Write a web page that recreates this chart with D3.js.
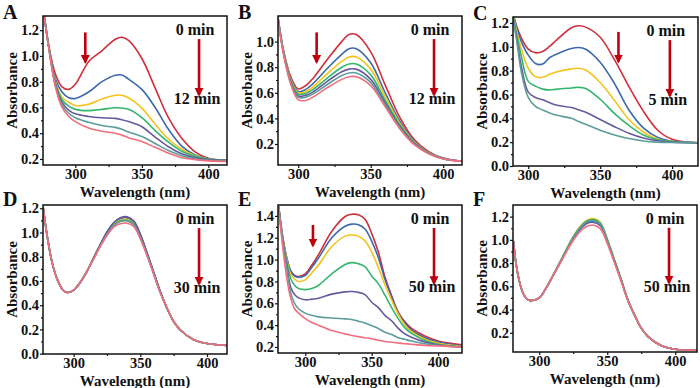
<!DOCTYPE html>
<html>
<head>
<meta charset="utf-8">
<script src="https://cdn.jsdelivr.net/npm/d3@7"></script>
<style>
  body { margin: 0; background: #fff; }
  text { font-family: "Liberation Serif", "Times New Roman", serif; font-weight: bold; }
</style>
</head>
<body>
<div id="chart"></div>
<script>
// series order in every panel: red, blue, yellow, green, purple, teal, pink
const seriesColors = ["#cf2f3a", "#3c68b0", "#f5c21b", "#34b56e", "#675a9c", "#5c9c9b", "#f26d7d"];

// ---- panel A ----
const wlA = [276, 280, 285, 290, 295, 300, 310, 320, 330, 335, 340, 350, 360, 370, 380, 390, 400, 414];
const absA = [
  [1.36, 1.08, 0.86, 0.76, 0.74, 0.78, 0.955, 1.04, 1.13, 1.145, 1.12, 0.98, 0.75, 0.52, 0.36, 0.255, 0.205, 0.19],
  [1.36, 1.08, 0.82, 0.72, 0.675, 0.67, 0.72, 0.80, 0.85, 0.852, 0.82, 0.74, 0.60, 0.43, 0.30, 0.23, 0.20, 0.19],
  [1.36, 1.08, 0.80, 0.68, 0.64, 0.615, 0.625, 0.665, 0.695, 0.695, 0.675, 0.595, 0.47, 0.355, 0.275, 0.225, 0.20, 0.19],
  [1.36, 1.07, 0.79, 0.66, 0.61, 0.585, 0.575, 0.585, 0.598, 0.595, 0.585, 0.52, 0.42, 0.33, 0.26, 0.22, 0.20, 0.19],
  [1.36, 1.07, 0.78, 0.64, 0.58, 0.55, 0.53, 0.52, 0.515, 0.505, 0.49, 0.45, 0.37, 0.295, 0.24, 0.21, 0.195, 0.19],
  [1.36, 1.07, 0.77, 0.62, 0.555, 0.52, 0.485, 0.46, 0.445, 0.43, 0.41, 0.375, 0.32, 0.265, 0.225, 0.20, 0.19, 0.185],
  [1.36, 1.06, 0.76, 0.60, 0.53, 0.49, 0.44, 0.415, 0.40, 0.385, 0.365, 0.335, 0.29, 0.245, 0.21, 0.195, 0.185, 0.18]
];

// ---- panel B ----
const wlB = [286, 290, 295, 300, 305, 310, 320, 330, 335, 340, 350, 360, 370, 380, 390, 400, 413];
const absB = [
  [1.19, 0.92, 0.72, 0.63, 0.655, 0.71, 0.86, 1.00, 1.055, 1.055, 0.92, 0.66, 0.41, 0.235, 0.14, 0.09, 0.065],
  [1.19, 0.915, 0.705, 0.61, 0.625, 0.67, 0.79, 0.90, 0.945, 0.945, 0.835, 0.60, 0.38, 0.22, 0.135, 0.088, 0.065],
  [1.185, 0.91, 0.70, 0.60, 0.61, 0.645, 0.75, 0.845, 0.88, 0.88, 0.785, 0.57, 0.365, 0.215, 0.132, 0.087, 0.065],
  [1.185, 0.905, 0.69, 0.59, 0.595, 0.625, 0.715, 0.80, 0.825, 0.825, 0.74, 0.54, 0.35, 0.21, 0.13, 0.086, 0.065],
  [1.18, 0.90, 0.68, 0.575, 0.58, 0.605, 0.69, 0.765, 0.785, 0.785, 0.705, 0.52, 0.34, 0.205, 0.128, 0.085, 0.065],
  [1.18, 0.895, 0.67, 0.565, 0.565, 0.59, 0.665, 0.735, 0.755, 0.755, 0.68, 0.505, 0.33, 0.20, 0.126, 0.085, 0.065],
  [1.175, 0.89, 0.66, 0.545, 0.54, 0.565, 0.64, 0.705, 0.725, 0.725, 0.655, 0.49, 0.32, 0.195, 0.124, 0.084, 0.065]
];

// ---- panel C (six spectra, 0-5 min) ----
const wlC = [289, 292, 295, 300, 305, 310, 315, 320, 330, 335, 340, 350, 360, 370, 380, 390, 400, 418];
const absC = [
  [1.30, 1.17, 1.08, 0.98, 0.95, 0.96, 1.005, 1.06, 1.16, 1.177, 1.165, 1.08, 0.89, 0.666, 0.46, 0.30, 0.225, 0.195],
  [1.30, 1.16, 1.05, 0.93, 0.86, 0.855, 0.91, 0.94, 0.985, 0.994, 0.98, 0.87, 0.69, 0.47, 0.32, 0.24, 0.208, 0.195],
  [1.29, 1.13, 0.99, 0.82, 0.75, 0.745, 0.77, 0.79, 0.815, 0.82, 0.805, 0.70, 0.55, 0.39, 0.285, 0.225, 0.205, 0.195],
  [1.28, 1.10, 0.93, 0.71, 0.67, 0.645, 0.638, 0.645, 0.655, 0.66, 0.65, 0.56, 0.44, 0.34, 0.26, 0.22, 0.205, 0.195],
  [1.27, 1.07, 0.85, 0.62, 0.575, 0.555, 0.53, 0.51, 0.49, 0.472, 0.45, 0.39, 0.33, 0.275, 0.235, 0.212, 0.20, 0.195],
  [1.26, 1.05, 0.80, 0.575, 0.50, 0.47, 0.445, 0.425, 0.40, 0.373, 0.35, 0.30, 0.26, 0.23, 0.21, 0.20, 0.197, 0.195]
];

// ---- panel D ----
const wlD = [277, 280, 284, 288, 292, 295, 300, 305, 310, 315, 320, 325, 330, 335, 340, 345, 350, 355, 360, 365, 370, 375, 380, 390, 400, 415];
const absD = [
  [1.22, 0.98, 0.745, 0.605, 0.525, 0.505, 0.525, 0.59, 0.68, 0.79, 0.90, 1.00, 1.075, 1.115, 1.122, 1.09, 0.98, 0.83, 0.67, 0.51, 0.375, 0.265, 0.195, 0.115, 0.083, 0.068],
  [1.22, 0.98, 0.745, 0.605, 0.525, 0.505, 0.525, 0.59, 0.68, 0.79, 0.90, 1.002, 1.077, 1.117, 1.125, 1.092, 0.982, 0.831, 0.671, 0.511, 0.375, 0.265, 0.195, 0.115, 0.083, 0.068],
  [1.22, 0.98, 0.745, 0.605, 0.525, 0.505, 0.525, 0.59, 0.68, 0.787, 0.895, 0.99, 1.065, 1.103, 1.108, 1.078, 0.97, 0.822, 0.665, 0.507, 0.375, 0.265, 0.195, 0.115, 0.083, 0.068],
  [1.22, 0.98, 0.745, 0.605, 0.525, 0.505, 0.525, 0.59, 0.68, 0.786, 0.893, 0.988, 1.06, 1.096, 1.10, 1.072, 0.965, 0.82, 0.662, 0.505, 0.375, 0.265, 0.195, 0.115, 0.083, 0.068],
  [1.22, 0.98, 0.745, 0.605, 0.525, 0.505, 0.525, 0.59, 0.68, 0.792, 0.902, 1.004, 1.08, 1.121, 1.13, 1.096, 0.985, 0.833, 0.672, 0.512, 0.375, 0.265, 0.195, 0.115, 0.083, 0.068],
  [1.22, 0.98, 0.745, 0.605, 0.525, 0.505, 0.525, 0.59, 0.68, 0.785, 0.89, 0.985, 1.055, 1.09, 1.095, 1.065, 0.96, 0.815, 0.66, 0.503, 0.375, 0.265, 0.195, 0.115, 0.083, 0.068],
  [1.22, 0.98, 0.745, 0.605, 0.525, 0.505, 0.525, 0.59, 0.68, 0.782, 0.885, 0.975, 1.045, 1.072, 1.077, 1.05, 0.948, 0.808, 0.655, 0.50, 0.375, 0.265, 0.195, 0.115, 0.083, 0.068]
];

// ---- panel E ----
const wlE = [280, 283, 286, 289, 292, 295, 300, 305, 310, 320, 330, 335, 340, 345, 350, 355, 360, 365, 370, 375, 380, 390, 400, 418];
const absE = [
  [1.49, 1.21, 1.02, 0.90, 0.855, 0.845, 0.87, 0.95, 1.045, 1.26, 1.395, 1.415, 1.41, 1.37, 1.24, 1.07, 0.84, 0.67, 0.52, 0.43, 0.37, 0.30, 0.255, 0.22],
  [1.49, 1.21, 1.02, 0.895, 0.85, 0.84, 0.855, 0.93, 1.015, 1.20, 1.305, 1.325, 1.32, 1.28, 1.17, 1.02, 0.82, 0.66, 0.51, 0.42, 0.355, 0.285, 0.245, 0.21],
  [1.49, 1.20, 1.01, 0.87, 0.82, 0.80, 0.815, 0.88, 0.95, 1.12, 1.215, 1.226, 1.215, 1.17, 1.07, 0.93, 0.77, 0.63, 0.50, 0.40, 0.34, 0.27, 0.235, 0.205],
  [1.49, 1.19, 0.99, 0.83, 0.765, 0.735, 0.725, 0.735, 0.765, 0.87, 0.955, 0.972, 0.962, 0.935, 0.85, 0.78, 0.675, 0.56, 0.46, 0.375, 0.325, 0.26, 0.225, 0.20],
  [1.48, 1.18, 0.96, 0.75, 0.68, 0.65, 0.632, 0.638, 0.647, 0.684, 0.705, 0.708, 0.70, 0.68, 0.61, 0.56, 0.49, 0.44, 0.37, 0.32, 0.29, 0.245, 0.22, 0.197],
  [1.48, 1.17, 0.93, 0.70, 0.60, 0.55, 0.51, 0.49, 0.476, 0.465, 0.457, 0.452, 0.436, 0.42, 0.395, 0.37, 0.335, 0.315, 0.285, 0.27, 0.255, 0.23, 0.215, 0.20],
  [1.47, 1.12, 0.84, 0.65, 0.55, 0.51, 0.46, 0.425, 0.40, 0.35, 0.32, 0.305, 0.295, 0.285, 0.275, 0.262, 0.25, 0.243, 0.236, 0.23, 0.225, 0.215, 0.21, 0.20]
];

// ---- panel F ----
const wlF = [281, 283, 286, 289, 292, 295, 300, 305, 310, 315, 320, 325, 330, 335, 340, 345, 350, 355, 360, 365, 370, 375, 380, 390, 400, 416];
const absF = [
  [0.99, 0.79, 0.615, 0.52, 0.482, 0.478, 0.50, 0.585, 0.69, 0.80, 0.915, 1.022, 1.105, 1.158, 1.17, 1.138, 1.0, 0.833, 0.665, 0.487, 0.355, 0.24, 0.168, 0.088, 0.058, 0.05],
  [0.99, 0.79, 0.615, 0.52, 0.482, 0.478, 0.50, 0.585, 0.69, 0.80, 0.912, 1.017, 1.098, 1.15, 1.16, 1.13, 0.995, 0.83, 0.663, 0.486, 0.355, 0.24, 0.168, 0.088, 0.058, 0.05],
  [0.99, 0.79, 0.615, 0.52, 0.482, 0.478, 0.50, 0.585, 0.69, 0.805, 0.92, 1.03, 1.115, 1.17, 1.183, 1.15, 1.01, 0.84, 0.67, 0.49, 0.355, 0.24, 0.168, 0.088, 0.058, 0.05],
  [0.99, 0.79, 0.615, 0.52, 0.482, 0.478, 0.50, 0.585, 0.69, 0.803, 0.917, 1.025, 1.108, 1.162, 1.175, 1.143, 1.005, 0.836, 0.668, 0.488, 0.355, 0.24, 0.168, 0.088, 0.058, 0.05],
  [0.99, 0.79, 0.615, 0.52, 0.482, 0.478, 0.50, 0.585, 0.69, 0.797, 0.908, 1.012, 1.09, 1.14, 1.15, 1.12, 0.99, 0.826, 0.66, 0.485, 0.355, 0.24, 0.168, 0.088, 0.058, 0.05],
  [0.99, 0.79, 0.615, 0.52, 0.482, 0.478, 0.50, 0.585, 0.69, 0.80, 0.913, 1.02, 1.102, 1.155, 1.165, 1.135, 0.998, 0.832, 0.664, 0.486, 0.355, 0.24, 0.168, 0.088, 0.058, 0.05],
  [0.99, 0.79, 0.615, 0.52, 0.482, 0.478, 0.50, 0.585, 0.69, 0.79, 0.897, 0.995, 1.07, 1.117, 1.125, 1.095, 0.97, 0.812, 0.65, 0.48, 0.355, 0.24, 0.168, 0.088, 0.058, 0.05]
];

const xTicks = [300, 350, 400];
const xMinorTicks = [325, 375];
const startLabel = "0 min";
const endLabels = ["12 min", "12 min", "5 min", "30 min", "50 min", "50 min"];
const panelLetters = ["A", "B", "C", "D", "E", "F"];

// layout: frame box in page pixels, axis ranges, annotation spots (fractions of frame)
const panels = [
  {x: 43, y: 16, w: 184, h: 149, xDom: [275.7, 414], yDom: [0.153, 1.31], yTicks: [0.2, 0.4, 0.6, 0.8, 1.0, 1.2], wl: wlA, abs: absA, small: [0.23, 0.11, 0.31]},
  {x: 278, y: 16, w: 184, h: 149, xDom: [286, 413], yDom: [0.036, 1.2], yTicks: [0.2, 0.4, 0.6, 0.8, 1.0], wl: wlB, abs: absB, small: [0.21, 0.11, 0.31]},
  {x: 513, y: 17, w: 185, h: 149, xDom: [289.4, 418], yDom: [0, 1.25], yTicks: [0.0, 0.2, 0.4, 0.6, 0.8, 1.0, 1.2], wl: wlC, abs: absC, small: [0.57, 0.10, 0.30]},
  {x: 43, y: 205, w: 184, h: 149, xDom: [277, 415], yDom: [-0.003, 1.227], yTicks: [0.0, 0.2, 0.4, 0.6, 0.8, 1.0, 1.2], wl: wlD, abs: absD, small: null},
  {x: 278, y: 205, w: 184, h: 148, xDom: [279.5, 418], yDom: [0.145, 1.5], yTicks: [0.2, 0.4, 0.6, 0.8, 1.0, 1.2, 1.4], wl: wlE, abs: absE, small: [0.19, 0.135, 0.275]},
  {x: 513, y: 205, w: 184, h: 147, xDom: [280.7, 416], yDom: [0.035, 1.3], yTicks: [0.2, 0.4, 0.6, 0.8, 1.0, 1.2], wl: wlF, abs: absF, small: null}
];

const arrowColor = "#c0000c";

const svg = d3.select("#chart")
  .append("svg")
  .attr("width", 700)
  .attr("height", 388);

svg.append("defs").append("marker")
  .attr("id", "head")
  .attr("viewBox", "0 0 10 10")
  .attr("refX", 8)
  .attr("refY", 5)
  .attr("markerUnits", "userSpaceOnUse")
  .attr("markerWidth", 9)
  .attr("markerHeight", 11)
  .attr("orient", "auto")
  .append("path")
  .attr("d", "M0,0 L10,5 L0,10 Z")
  .attr("fill", arrowColor);

function arrow(g, x0, y0, x1, y1) {
  g.append("line")
    .attr("x1", x0).attr("y1", y0)
    .attr("x2", x1).attr("y2", y1)
    .attr("stroke", arrowColor)
    .attr("stroke-width", 2.6)
    .attr("marker-end", "url(#head)");
}

panels.forEach(function (p, i) {
  const g = svg.append("g").attr("transform", `translate(${p.x},${p.y})`);

  const x = d3.scaleLinear().domain(p.xDom).range([0, p.w]);
  const y = d3.scaleLinear().domain(p.yDom).range([p.h, 0]);

  g.append("clipPath").attr("id", "clip" + i)
    .append("rect").attr("width", p.w).attr("height", p.h);

  const line = d3.line()
    .x((d, k) => x(p.wl[k]))
    .y(d => y(d))
    .curve(d3.curveCatmullRom.alpha(0.5));

  g.append("g")
    .attr("clip-path", `url(#clip${i})`)
    .selectAll("path")
    .data(p.abs)
    .join("path")
    .attr("d", line)
    .attr("fill", "none")
    .attr("stroke", (d, k) => seriesColors[k])
    .attr("stroke-width", 1.6);

  // bottom axis
  const xAxis = g.append("g")
    .attr("transform", `translate(0,${p.h})`)
    .call(d3.axisBottom(x).tickValues(xTicks).tickSize(3).tickPadding(1).tickFormat(d3.format("d")));
  g.append("g")
    .attr("transform", `translate(0,${p.h})`)
    .call(d3.axisBottom(x).tickValues(xMinorTicks).tickSize(2).tickFormat(""))
    .select(".domain").remove();

  // left axis
  const yMinor = p.yTicks.slice(0, -1).map(v => v + 0.1);
  const yAxis = g.append("g")
    .call(d3.axisLeft(y).tickValues(p.yTicks).tickSize(3).tickPadding(1).tickFormat(d3.format(".1f")));
  g.append("g")
    .call(d3.axisLeft(y).tickValues(yMinor).tickSize(2).tickFormat(""))
    .select(".domain").remove();

  [xAxis, yAxis].forEach(a => {
    a.select(".domain").remove();
    a.selectAll("text")
      .attr("fill", "#111")
      .style("font-size", "14.5px");
  });
  g.selectAll(".tick line").attr("stroke", "#111").attr("stroke-width", 1.2);

  // frame
  g.append("rect")
    .attr("width", p.w)
    .attr("height", p.h)
    .attr("fill", "none")
    .attr("stroke", "#111")
    .attr("stroke-width", 1.5);

  // axis titles
  g.append("text")
    .attr("x", p.w / 2)
    .attr("y", p.h + 31.5)
    .attr("text-anchor", "middle")
    .style("font-size", "15px")
    .attr("fill", "#111")
    .text("Wavelength (nm)");

  g.append("text")
    .attr("transform", `translate(-26,${p.h / 2}) rotate(-90)`)
    .attr("text-anchor", "middle")
    .style("font-size", "15px")
    .attr("fill", "#111")
    .text("Absorbance");

  // panel letter
  g.append("text")
    .attr("x", -40)
    .attr("y", i < 3 ? 3 : 1)
    .style("font-size", "20px")
    .attr("fill", "#111")
    .text(panelLetters[i]);

  // time annotations
  const ax = 0.848 * p.w;
  g.append("text")
    .attr("x", ax - 4)
    .attr("y", 0.13 * p.h)
    .attr("text-anchor", "middle")
    .style("font-size", "16px")
    .attr("fill", "#111")
    .text(startLabel);
  arrow(g, ax, 0.155 * p.h, ax, 0.53 * p.h);
  g.append("text")
    .attr("x", ax - 2)
    .attr("y", 0.59 * p.h)
    .attr("text-anchor", "middle")
    .style("font-size", "16px")
    .attr("fill", "#111")
    .text(endLabels[i]);

  if (p.small) {
    arrow(g, p.small[0] * p.w, p.small[1] * p.h, p.small[0] * p.w, p.small[2] * p.h);
  }
});
</script>
</body>
</html>
